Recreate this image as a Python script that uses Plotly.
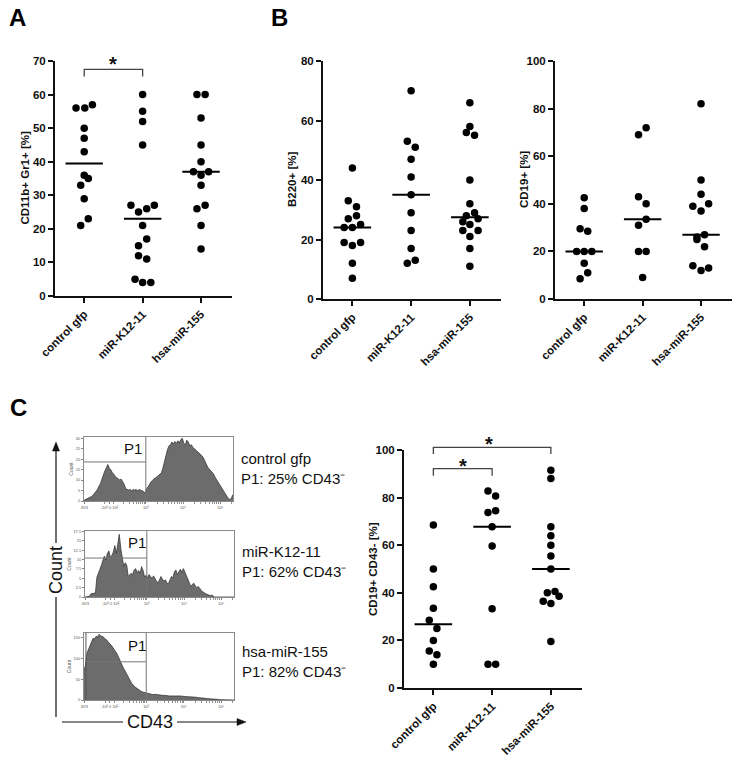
import numpy as np
import plotly.graph_objects as go

W, H = 736, 757
FONT = "Arial, Liberation Sans, Helvetica, sans-serif"
INK = "#111111"

groups = ["control gfp", "miR-K12-11", "hsa-miR-155"]

# ---------------- Panel A : CD11b+ Gr1+ [%] ----------------
a_ctrl = [56, 56, 57, 50, 47, 43, 36, 35, 33, 29, 23, 21]
a_k12 = [60, 55, 52, 45, 27, 27, 26, 25, 21, 17, 15, 12, 11, 5, 4, 4]
a_155 = [60, 60, 53, 45, 40, 37, 37, 36, 33, 27, 26, 21, 14]
# horizontal scatter offsets (category units)
a_ctrl_dx = [-0.14, 0.01, 0.14, 0, 0, 0, 0, 0.07, -0.06, 0, 0.07, -0.06]
a_k12_dx = [0, 0, 0, 0, -0.2, 0.2, 0.07, -0.07, 0, 0.07, -0.07, -0.07, 0.07, -0.13, 0, 0.14]
a_155_dx = [-0.07, 0.07, 0, 0, 0, -0.13, 0.13, 0, 0, 0.07, -0.07, 0, 0]

# ---------------- Panel B1 : B220+ [%] ----------------
b1_ctrl = [44, 33, 31, 28, 27, 25, 24, 24, 19, 19, 18, 12, 7]
b1_k12 = [70, 53, 51, 47, 41, 35, 29, 23, 17, 13, 12]
b1_155 = [66, 58, 56, 55, 40, 32, 29, 28, 27, 26, 25, 23, 23, 21, 17, 11]
b1_ctrl_dx = [0, -0.07, 0.07, 0.07, -0.07, 0.14, -0.14, 0, -0.14, 0.14, 0, 0, 0]
b1_k12_dx = [0, -0.065, 0.07, 0, 0, 0, 0, 0, 0, 0.07, -0.065]
b1_155_dx = [0, 0, -0.06, 0.08, 0, 0, 0.08, -0.06, 0.14, -0.12, 0, -0.12, 0.14, 0, 0, 0]

# ---------------- Panel B2 : CD19+ [%] ----------------
b2_ctrl = [42.5, 38, 29.5, 28.5, 20, 20, 20, 15, 11, 8.5]
b2_k12 = [72, 69, 43, 40, 33.5, 31, 20, 20, 9]
b2_155 = [82, 50, 44, 40, 39, 37, 27, 26, 25, 22, 14, 13, 12]
b2_ctrl_dx = [0, 0, -0.07, 0.06, -0.13, 0, 0.13, 0, 0.06, -0.07]
b2_k12_dx = [0.06, -0.07, -0.07, 0.06, 0.06, -0.07, -0.07, 0.06, 0]
b2_155_dx = [0, 0, 0, 0.13, -0.14, 0, 0.06, -0.07, -0.07, 0.06, -0.14, 0.13, 0]

# ---------------- Panel C : CD19+ CD43- [%] ----------------
c_ctrl = [68.5, 50, 42.5, 33.5, 28.5, 25, 20, 15.5, 14, 10]
c_k12 = [82.8, 80.7, 73.7, 74.5, 67.7, 59.7, 33.3, 10, 10]
c_155 = [91.5, 88, 67.7, 64, 60, 55.5, 50, 40, 40.5, 38.5, 36.5, 35.5, 19.5]
c_ctrl_dx = [0, 0, 0, 0, -0.07, 0.06, 0, -0.07, 0.06, 0]
c_k12_dx = [-0.07, 0.06, -0.07, 0.06, 0, 0, 0, -0.07, 0.06]
c_155_dx = [0, 0, 0, 0, 0, 0, 0, -0.06, 0.07, 0.14, -0.13, 0, 0]

# significance brackets: (panel, group from, group to, bracket low, bracket top, star value)
brackets = [(1, 0, 1, 65.4, 67.5, 70.3),
            (4, 0, 2, 98.3, 101.1, 104.2),
            (4, 0, 1, 89.2, 92.2, 95.1)]

# ---------------- Flow histograms (relative height, CD43 display scale 0..1) ----------------
hist_x = np.round(np.linspace(0, 1, 101), 2)
h1_rel = [0.01, 0.02, 0.03, 0.04, 0.05, 0.07, 0.09, 0.12, 0.15, 0.18,
          0.23, 0.27, 0.34, 0.42, 0.47, 0.52, 0.57, 0.51, 0.49, 0.44,
          0.42, 0.38, 0.36, 0.35, 0.33, 0.34, 0.30, 0.26, 0.19, 0.18,
          0.17, 0.18, 0.16, 0.18, 0.17, 0.18, 0.16, 0.18, 0.17, 0.16,
          0.15, 0.12, 0.19, 0.22, 0.27, 0.30, 0.32, 0.35, 0.36, 0.38,
          0.40, 0.42, 0.44, 0.52, 0.62, 0.72, 0.80, 0.86, 0.88, 0.92,
          0.89, 0.93, 0.90, 0.94, 0.91, 0.96, 0.98, 0.90, 0.88, 0.95,
          0.92, 0.86, 0.88, 0.84, 0.82, 0.80, 0.78, 0.76, 0.73, 0.71,
          0.68, 0.62, 0.57, 0.53, 0.50, 0.47, 0.45, 0.42, 0.37, 0.33,
          0.29, 0.25, 0.21, 0.19, 0.15, 0.11, 0.07, 0.04, 0.02, 0.05, 0.10]
h2_rel = [0, 0, 0, 0.01, 0.05, 0.05, 0.05, 0.06, 0.30, 0.38,
          0.42, 0.48, 0.55, 0.62, 0.56, 0.66, 0.70, 0.60, 0.63, 0.68,
          0.78, 0.66, 0.80, 0.95, 0.74, 0.56, 0.46, 0.52, 0.48, 0.31,
          0.33, 0.36, 0.34, 0.41, 0.43, 0.37, 0.40, 0.36, 0.46, 0.40,
          0.30, 0.33, 0.29, 0.34, 0.31, 0.28, 0.32, 0.27, 0.24, 0.21,
          0.26, 0.31, 0.27, 0.24, 0.26, 0.21, 0.20, 0.26, 0.31, 0.29,
          0.38, 0.41, 0.34, 0.38, 0.42, 0.37, 0.43, 0.38, 0.32, 0.26,
          0.20, 0.16, 0.19, 0.21, 0.17, 0.14, 0.16, 0.12, 0.10, 0.08,
          0.06, 0.05, 0.04, 0.03, 0.02, 0.03, 0.01, 0, 0, 0,
          0, 0, 0, 0, 0, 0, 0, 0, 0, 0, 0]
h3_rel = [0.44, 0.52, 0.70, 0.76, 0.82, 0.88, 0.92, 0.91, 0.95, 0.94,
          0.98, 0.96, 0.95, 0.94, 0.91, 0.90, 0.87, 0.85, 0.82, 0.79,
          0.76, 0.72, 0.69, 0.64, 0.60, 0.54, 0.49, 0.45, 0.41, 0.36,
          0.31, 0.28, 0.24, 0.22, 0.19, 0.18, 0.16, 0.14, 0.13, 0.12,
          0.115, 0.10, 0.10, 0.09, 0.09, 0.085, 0.08, 0.085, 0.08, 0.075,
          0.08, 0.07, 0.07, 0.07, 0.065, 0.06, 0.065, 0.06, 0.06, 0.055,
          0.06, 0.06, 0.055, 0.06, 0.06, 0.055, 0.06, 0.055, 0.05, 0.05,
          0.05, 0.045, 0.045, 0.04, 0.04, 0.04, 0.035, 0.035, 0.03, 0.03,
          0.03, 0.025, 0.02, 0.02, 0.02, 0.015, 0.015, 0.01, 0.01, 0.01,
          0.005, 0.005, 0.005, 0.003, 0.002, 0, 0, 0, 0, 0, 0]
hist_labels = ["control gfp", "miR-K12-11", "hsa-miR-155"]
hist_p1 = [25, 62, 82]
hist_gate_h = [0.61, 0.59, 0.57]
hist_gate_x = 0.415
hist_gate_left = [0.0, 0.0, 0.013]
hist_count_max = [30.6, 17.6, 162]
hist_count_ticks = [[0, 5, 10, 15, 20, 25, 30],
                    [0, 2.5, 5, 7.5, 10, 12.5, 15, 17.5],
                    [0, 50, 100, 150]]
cd43_tickpos = [0.0, 0.17, 0.415, 0.665, 0.915]
cd43_ticktxt = ["-823", "-10² 0 10²", "10³", "10⁴", "10⁵"]
cd43_sidetick = [0.14, 0.2]


def pxd(x0, x1):
    return [x0 / W, x1 / W]


def pyd(ytop, ybot):
    return [1 - ybot / H, 1 - ytop / H]


fig = go.Figure()
yranges = {}


def ids(i):
    return ("x" if i == 1 else f"x{i}"), ("y" if i == 1 else f"y{i}")


def add_dotplot(i, series, offsets):
    xa, ya = ids(i)
    for k, (vals, dxs) in enumerate(zip(series, offsets)):
        fig.add_trace(go.Scatter(
            x=[k + d for d in dxs], y=vals, mode="markers",
            marker=dict(size=7.5, color="black"), cliponaxis=False,
            xaxis=xa, yaxis=ya, hoverinfo="skip", showlegend=False))
        med = float(np.median(vals))
        fig.add_trace(go.Scatter(
            x=[k - 0.32, k + 0.32], y=[med, med], mode="lines",
            line=dict(color="black", width=2), xaxis=xa, yaxis=ya,
            hoverinfo="skip", showlegend=False))


def cat_axes(i, xdom, ydom, yrange, dtick, ytitle):
    xa, ya = ids(i)
    yranges[i] = yrange
    tickfont = dict(family=FONT, size=11.5, color=INK, weight="bold")
    fig.layout[("xaxis" if i == 1 else f"xaxis{i}")] = dict(
        domain=xdom, anchor=ya, range=[-0.5, 2.53], tickmode="array",
        tickvals=[0, 1, 2], ticktext=groups, tickangle=-45, ticks="outside",
        ticklen=5, tickwidth=2, tickcolor=INK, showline=True, linecolor=INK,
        linewidth=2, showgrid=False, zeroline=False, tickfont=tickfont,
        fixedrange=True, automargin=False)
    fig.layout[("yaxis" if i == 1 else f"yaxis{i}")] = dict(
        domain=ydom, anchor=xa, range=yrange, dtick=dtick, tick0=0, ticks="outside",
        ticklen=5, tickwidth=2, tickcolor=INK, showline=True, linecolor=INK,
        linewidth=2, showgrid=False, zeroline=False, tickfont=tickfont,
        fixedrange=True, automargin=False)
    fig.add_annotation(text=ytitle, xref=f"{xa} domain", yref=f"{ya} domain",
                       x=0, y=0.5, xshift=-31, textangle=-90, showarrow=False,
                       xanchor="center", yanchor="middle",
                       font=dict(family=FONT, size=11.5, color=INK, weight="bold"))


add_dotplot(1, [a_ctrl, a_k12, a_155], [a_ctrl_dx, a_k12_dx, a_155_dx])
cat_axes(1, pxd(55, 232), pyd(61, 296), [0, 70], 10, "CD11b+ Gr1+ [%]")
add_dotplot(2, [b1_ctrl, b1_k12, b1_155], [b1_ctrl_dx, b1_k12_dx, b1_155_dx])
cat_axes(2, pxd(323, 501), pyd(61, 299), [0, 80], 20, "B220+ [%]")
add_dotplot(3, [b2_ctrl, b2_k12, b2_155], [b2_ctrl_dx, b2_k12_dx, b2_155_dx])
cat_axes(3, pxd(555, 732), pyd(61, 299), [0, 100], 20, "CD19+ [%]")
add_dotplot(4, [c_ctrl, c_k12, c_155], [c_ctrl_dx, c_k12_dx, c_155_dx])
cat_axes(4, pxd(404, 582), pyd(450, 688), [0, 100], 20, "CD19+ CD43- [%]")

# brackets and stars (y in axis-domain units so they may sit above the axis top)
for (i, g0, g1, ylo, ytop, ystar) in brackets:
    xa, ya = ids(i)
    r0, r1 = yranges[i]
    f = lambda v: (v - r0) / (r1 - r0)
    fig.add_shape(type="path", xref=xa, yref=f"{ya} domain",
                  path=f"M {g0},{f(ylo)} L {g0},{f(ytop)} L {g1},{f(ytop)} L {g1},{f(ylo)}",
                  line=dict(color="#444", width=1.3))
    fig.add_annotation(text="*", xref=xa, yref=f"{ya} domain",
                       x=(g0 + g1) / 2 - (0.05 if g1 - g0 > 1 else 0), y=f(ystar),
                       yshift=-4, showarrow=False, xanchor="center", yanchor="middle",
                       font=dict(family=FONT, size=20, color=INK, weight="bold"))

# Flow histograms
hist_boxes = [(84, 233, 437, 501), (85, 234, 531, 597), (84, 234, 633, 700)]
minor_pos = list(cd43_sidetick)
for lo, hi in [(0.2, 0.415), (0.415, 0.665), (0.665, 0.915)]:
    for m in range(2, 10):
        minor_pos.append(lo + (hi - lo) * np.log10(m))
minor_pos.append(0.915 + 0.25 * np.log10(2))

for j, (hy, box) in enumerate(zip([h1_rel, h2_rel, h3_rel], hist_boxes)):
    i = 5 + j
    xa, ya = ids(i)
    fig.add_trace(go.Scatter(
        x=hist_x, y=hy, mode="lines", fill="tozeroy", fillcolor="#6c6c6c",
        line=dict(color="#3a3a3a", width=0.8), xaxis=xa, yaxis=ya,
        hoverinfo="skip", showlegend=False))
    g = hist_gate_x
    fig.add_trace(go.Scatter(
        x=[g, g], y=[0, 1], mode="lines", line=dict(color="#777", width=1),
        xaxis=xa, yaxis=ya, hoverinfo="skip", showlegend=False))
    fig.add_trace(go.Scatter(
        x=[hist_gate_left[j], g], y=[hist_gate_h[j], hist_gate_h[j]], mode="lines",
        line=dict(color="#777", width=1), xaxis=xa, yaxis=ya,
        hoverinfo="skip", showlegend=False))
    if hist_gate_left[j] > 0:
        fig.add_trace(go.Scatter(
            x=[hist_gate_left[j], hist_gate_left[j]], y=[0, 1], mode="lines",
            line=dict(color="#555", width=1), xaxis=xa, yaxis=ya,
            hoverinfo="skip", showlegend=False))
    x0, x1, yt, yb = box
    tiny = dict(family=FONT, size=4, color="#555")
    fig.layout[f"xaxis{i}"] = dict(
        domain=pxd(x0, x1), anchor=ya, range=[0, 1], tickmode="array",
        tickvals=cd43_tickpos, ticktext=cd43_ticktxt, ticks="outside", ticklen=2,
        tickwidth=0.8, tickcolor="#666", tickfont=tiny, tickangle=0, showline=True,
        mirror=True, linecolor="#8a8a8a", linewidth=1, showgrid=False, zeroline=False,
        minor=dict(tickvals=minor_pos, ticks="outside", ticklen=1.5, tickcolor="#777"),
        fixedrange=True, automargin=False)
    cmax = hist_count_max[j]
    fig.layout[f"yaxis{i}"] = dict(
        domain=pyd(yt, yb), anchor=xa, range=[0, 1], tickmode="array",
        tickvals=[t / cmax for t in hist_count_ticks[j]],
        ticktext=[f"{t:g}" for t in hist_count_ticks[j]], ticks="outside", ticklen=2,
        tickwidth=0.8, tickcolor="#666", tickfont=tiny, showline=True, mirror=True,
        linecolor="#8a8a8a", linewidth=1, showgrid=False, zeroline=False,
        title=dict(text="Count", font=dict(family=FONT, size=5, color="#555"), standoff=1),
        fixedrange=True, automargin=False)
    fig.add_annotation(text="P1", xref=xa, yref=ya, x=0.33 if j == 0 else 0.35,
                       y=0.82, showarrow=False, xanchor="center", yanchor="middle",
                       font=dict(family=FONT, size=15, color=INK))
    fig.add_annotation(
        text=f"{hist_labels[j]}<br>P1: {hist_p1[j]}% CD43⁻",
        xref=f"{xa} domain", yref=f"{ya} domain", x=1, y=0.5, xshift=6,
        yshift=[1, 3, 5][j], xanchor="left", yanchor="middle", align="left",
        showarrow=False, font=dict(family=FONT, size=15, color=INK))

# Count / CD43 arrows (decorative axes of the histogram stack), broken around the labels
def P(x, y):
    return f"{x / W},{1 - y / H}"

arrow_line = dict(color=INK, width=1.2)
for (ya0, ya1) in [(717, 597), (543, 450)]:
    fig.add_shape(type="line", xref="paper", yref="paper", x0=56 / W, y0=1 - ya0 / H,
                  x1=56 / W, y1=1 - ya1 / H, line=arrow_line)
fig.add_shape(type="path", xref="paper", yref="paper",
              path=f"M {P(56, 442)} L {P(52.5, 451)} L {P(59.5, 451)} Z",
              fillcolor=INK, line=dict(color=INK, width=0.5))
for (xa0, xa1) in [(62, 123), (177, 238)]:
    fig.add_shape(type="line", xref="paper", yref="paper", x0=xa0 / W, y0=1 - 722 / H,
                  x1=xa1 / W, y1=1 - 722 / H, line=arrow_line)
fig.add_shape(type="path", xref="paper", yref="paper",
              path=f"M {P(246, 722)} L {P(237, 718.5)} L {P(237, 725.5)} Z",
              fillcolor=INK, line=dict(color=INK, width=0.5))
fig.add_annotation(text="Count", xref="paper", yref="paper", x=56 / W, y=1 - 570 / H,
                   textangle=-90, showarrow=False, borderpad=0,
                   xanchor="center", yanchor="middle",
                   font=dict(family=FONT, size=18, color=INK))
fig.add_annotation(text="CD43", xref="paper", yref="paper", x=150 / W, y=1 - 722 / H,
                   showarrow=False, borderpad=0, xanchor="center", yanchor="middle",
                   font=dict(family=FONT, size=18, color=INK))

# Panel letters
for letter, (lx, ly) in {"A": (17, 18), "B": (279, 18), "C": (18, 407)}.items():
    fig.add_annotation(text=letter, xref="paper", yref="paper",
                       x=lx / W, y=1 - ly / H, showarrow=False,
                       xanchor="center", yanchor="middle",
                       font=dict(family=FONT, size=24, color="black", weight="bold"))

fig.update_layout(width=W, height=H, margin=dict(l=0, r=0, t=0, b=0, autoexpand=False),
                  paper_bgcolor="white", plot_bgcolor="white", showlegend=False,
                  font=dict(family=FONT, color=INK))

fig.write_html(
    "out.html", config={"displayModeBar": False, "staticPlot": True},
    post_script="document.body.style.margin='0';document.body.style.padding='0';"
                "document.body.style.overflow='hidden';")
